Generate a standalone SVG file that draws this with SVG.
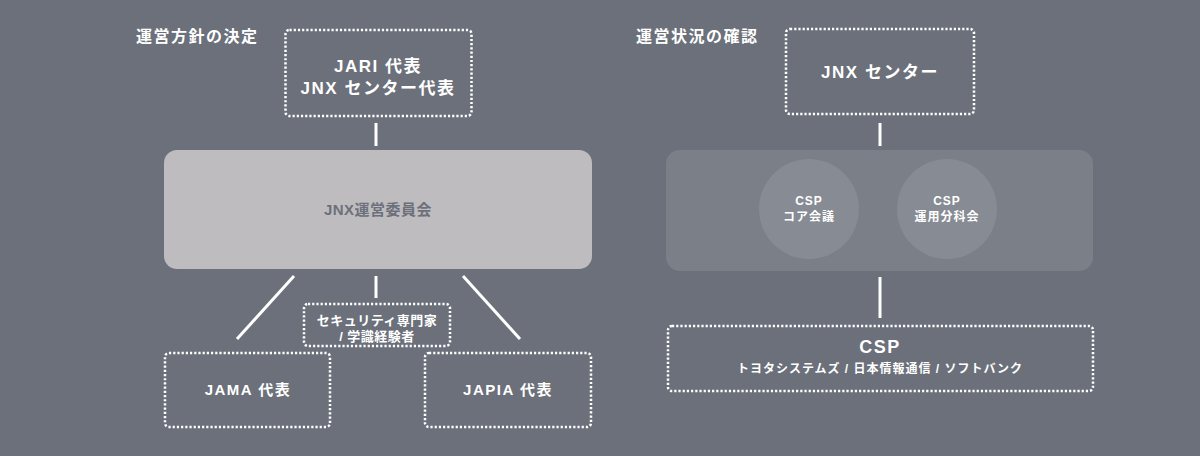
<svg xmlns="http://www.w3.org/2000/svg" width="1200" height="456" viewBox="0 0 1200 456">
<style>
text{font-family:"Liberation Sans","Noto Sans CJK JP",sans-serif;font-weight:bold;fill:#ffffff;text-anchor:middle}
.title{font-size:16px;text-anchor:start;letter-spacing:1.5px}
.dot{fill:none;stroke:#ffffff;stroke-width:2.5;stroke-dasharray:2.2 2}
.conn{stroke:#ffffff;stroke-width:3;fill:none}
.t17{font-size:17px;letter-spacing:1.5px}
.t15{font-size:15px;letter-spacing:1.5px}
.t13{font-size:13px;letter-spacing:0.5px}
.t12{font-size:12px;letter-spacing:1px}
</style>
<rect width="1200" height="456" fill="#6b707a"/>
<text class="title" x="136" y="42">運営方針の決定</text>
<text class="title" x="636" y="42">運営状況の確認</text>
<g id="connectors">
<line class="conn" x1="376" y1="123" x2="376" y2="146"/>
<line class="conn" x1="294" y1="276" x2="237" y2="339"/>
<line class="conn" x1="376" y1="276" x2="376" y2="298"/>
<line class="conn" x1="463" y1="276" x2="520" y2="339"/>
<line class="conn" x1="880" y1="123" x2="880" y2="146"/>
<line class="conn" x1="880" y1="277" x2="880" y2="318"/>
</g>
<g id="jari">
<rect class="dot" x="285.5" y="30" width="186" height="86" rx="4"/>
<text class="t17" x="378" y="72">JARI 代表</text>
<text class="t17" x="378" y="94">JNX センター代表</text>
</g>
<g id="committee">
<rect x="164" y="150" width="428" height="119" rx="13" fill="#bebcbf"/>
<text x="378" y="215" style="font-size:15px;fill:#6b707a;letter-spacing:0.5px">JNX運営委員会</text>
</g>
<g id="expert">
<rect class="dot" x="304" y="304" width="146" height="42" rx="4"/>
<text class="t13" x="377" y="324.5">セキュリティ専門家</text>
<text class="t13" x="377" y="341">/ 学識経験者</text>
</g>
<g id="jama">
<rect class="dot" x="165" y="353" width="165" height="74" rx="4"/>
<text class="t15" x="248" y="395">JAMA 代表</text>
</g>
<g id="japia">
<rect class="dot" x="425" y="353" width="166" height="74" rx="4"/>
<text class="t15" x="508" y="395">JAPIA 代表</text>
</g>
<g id="jnxcenter">
<rect class="dot" x="786" y="29" width="188" height="85" rx="4"/>
<text class="t17" x="880" y="78">JNX センター</text>
</g>
<g id="panel">
<rect x="666" y="150" width="427" height="121" rx="14" fill="#7a7f88"/>
</g>
<g id="core">
<circle cx="809" cy="209" r="50" fill="#878b93"/>
<text class="t12" x="809" y="205">CSP</text>
<text class="t12" x="809" y="221">コア会議</text>
</g>
<g id="ops">
<circle cx="947" cy="209" r="50" fill="#878b93"/>
<text class="t12" x="947" y="205">CSP</text>
<text class="t12" x="947" y="221">運用分科会</text>
</g>
<g id="csp">
<rect class="dot" x="668" y="326" width="425" height="65" rx="4"/>
<text x="880" y="353" style="font-size:18px;letter-spacing:1.5px">CSP</text>
<text class="t12" x="880" y="373">トヨタシステムズ / 日本情報通信 / ソフトバンク</text>
</g>
</svg>
